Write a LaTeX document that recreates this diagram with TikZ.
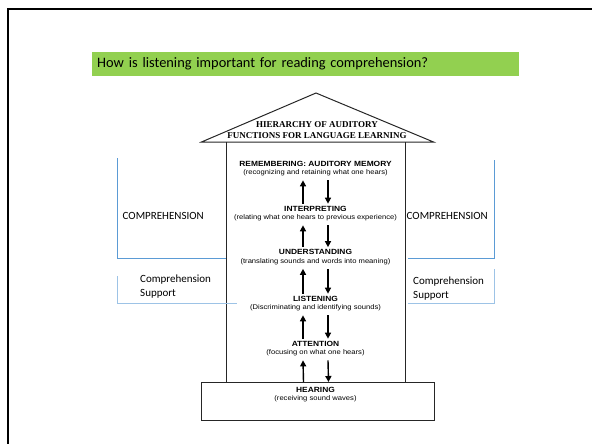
\documentclass[tikz,border=0pt]{standalone}
\usepackage{fontspec}
\setmainfont{Carlito}
\newfontfamily\rooffont{Liberation Serif}
\newfontfamily\comic[FakeStretch=1.12]{Liberation Sans}
\usetikzlibrary{arrows.meta}
\definecolor{titlegreen}{HTML}{92D050}
\definecolor{bracketblue}{HTML}{5B9BD5}
\definecolor{bracketlight}{HTML}{9DC3E6}
\tikzset{
  frameline/.style={line width=2pt, black},
  houseline/.style={line width=1pt, black!85},
  level/.style={align=center, inner sep=1pt, font=\comic\fontsize{6.8}{8.6}\selectfont},
  lvarrow/.style={line width=1.4pt, -{Triangle[length=6pt,width=6pt]}},
  bracket/.style={bracketblue, line width=0.8pt},
  bracketl/.style={bracketlight, line width=0.9pt},
  sidelabel/.style={font=\fontsize{11}{13}\selectfont, inner sep=0pt},
  sidesmall/.style={font=\fontsize{11}{14}\selectfont, inner sep=0pt, align=left},
}
\newcommand{\lvname}[1]{{\bfseries\fontsize{7.5}{8.6}\selectfont #1}}
\begin{document}
\begin{tikzpicture}[x=1pt,y=-1pt]
\useasboundingbox (0,0) rectangle (592,444);
% outer frame
\draw[frameline] (8,444) -- (8,9.5) -- (592,9.5);
% title bar
\node[fill=titlegreen, anchor=north west, minimum width=427pt, minimum height=24pt,
      text width=417pt, inner xsep=5pt, align=left, font=\fontsize{14.4}{16}\selectfont]
  (title) at (92,52) {How is listening important for reading comprehension?};
% house
\coordinate (apex) at (316,93);
\coordinate (rl) at (201.5,142);
\coordinate (rr) at (433.5,142);
\coordinate (wl) at (226,142);
\coordinate (wr) at (405,142);
\draw[houseline] (rl) -- (apex) -- (rr) -- cycle;
\node[font=\rooffont\bfseries\fontsize{9}{11.5}\selectfont, align=center, inner sep=0pt]
  (rooftext) at (317,130) {HIERARCHY OF AUDITORY\\FUNCTIONS FOR LANGUAGE LEARNING};
\node[draw=black!85, line width=1pt, anchor=north west, minimum width=233pt, minimum height=38pt,
      inner sep=0pt] (base) at (201,382) {};
\coordinate (bl) at (226,382);
\coordinate (br) at (405,382);
\draw[houseline] (wl) -- (bl);
\draw[houseline] (wr) -- (br);
% levels
\node[level] (l6) at (315.5,168.5) {\lvname{REMEMBERING: AUDITORY MEMORY}\\(recognizing and retaining what one hears)};
\node[level] (l5) at (315.5,213.5) {\lvname{INTERPRETING}\\(relating what one hears to previous experience)};
\node[level] (l4) at (315.5,257) {\lvname{UNDERSTANDING}\\(translating sounds and words into meaning)};
\node[level] (l3) at (315.5,303.5) {\lvname{LISTENING}\\(Discriminating and identifying sounds)};
\node[level] (l2) at (315.5,348.5) {\lvname{ATTENTION}\\(focusing on what one hears)};
\node[level] (l1) at (315.5,394.5) {\lvname{HEARING}\\(receiving sound waves)};
% arrows between levels
\foreach \lo/\hi in {l5/l6, l4/l5, l3/l4, l2/l3} {
  \draw[lvarrow] ([xshift=-12.5pt,yshift=1pt]\lo.north) -- ([xshift=-12.5pt,yshift=-3pt]\hi.south);
  \draw[lvarrow] ([xshift=12.5pt,yshift=-3pt]\hi.south) -- ([xshift=12.5pt,yshift=1pt]\lo.north);
}
\draw[lvarrow] ([xshift=-14.5pt]base.north) -- ([xshift=-12.5pt,yshift=-3pt]l2.south);
\draw[lvarrow] ([xshift=12.5pt,yshift=-3pt]l2.south) -- ([xshift=10.5pt]base.north);
% left brackets
\draw[bracket] (117,158) -- (117,258) -- (wl |- 0,258);
\draw[bracketl] (117,276) -- (117,303.5) -- (237,303.5);
\node[sidelabel, anchor=west] (compL) at (122.5,215.5) {COMPREHENSION};
\node[sidesmall, anchor=west] (suppL) at (140,286.5) {Comprehension\\Support};
% right brackets
\draw[bracket] (494,160) -- (494,258.5) -- (407.5,258.5);
\draw[bracketl] (494.5,269) -- (494.5,303.5) -- (407.5,303.5);
\node[sidelabel, anchor=west] (compR) at (406.5,215.5) {COMPREHENSION};
\node[sidesmall, anchor=west] (suppR) at (413,289) {Comprehension\\Support};
\end{tikzpicture}
\end{document}
